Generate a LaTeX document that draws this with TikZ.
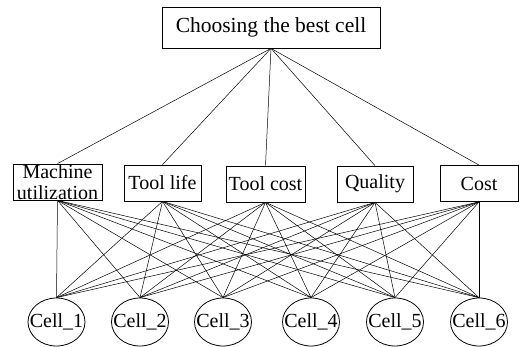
\documentclass[tikz,border=0pt]{standalone}
\usepackage{fontspec}
\setmainfont{Liberation Serif}
\usetikzlibrary{shapes.geometric}

\begin{document}
\begin{tikzpicture}[x=1pt, y=-1pt, font=\fontsize{20}{21}\selectfont,
   box/.style={draw, line width=0.8pt, inner sep=0pt, minimum height=36pt},
   cell/.style={draw, ellipse, line width=0.8pt, inner xsep=-8pt, inner ysep=0pt,
                minimum width=57pt, minimum height=48pt},
   link/.style={line width=0.5pt}]
  \useasboundingbox (0,0) rectangle (521,347);
  % goal
  \node[box, minimum width=218pt, minimum height=41pt,
        font=\fontsize{21.5}{24}\selectfont] (goal) at (271,27.5) {Choosing the best cell};
  % criteria
  \node[box, minimum width=89pt, inner ysep=-2pt, align=center] (mu)   at (57.5,182) {Machine\\utilization};
  \node[box, minimum width=77pt] (tl)   at (162.5,183) {Tool life};
  \node[box, minimum width=79pt] (tc)   at (265.5,184) {Tool cost};
  \node[box, minimum width=76pt] (qual) at (375,184)   {Quality};
  \node[box, minimum width=78pt] (cost) at (479,183.5) {Cost};
  % alternatives
  \node[cell] (cell1) at (56.5,322) {Cell\_1};
  \node[cell] (cell2) at (140,322)  {Cell\_2};
  \node[cell] (cell3) at (223,322)  {Cell\_3};
  \node[cell] (cell4) at (311,322)  {Cell\_4};
  \node[cell] (cell5) at (395,322)  {Cell\_5};
  \node[cell] (cell6) at (479,322)  {Cell\_6};
  % links
  \foreach \k in {mu,tl,tc,qual,cost} {
    \draw[link] (goal.south) -- (\k.north);
    \foreach \n in {1,...,6}
      \draw[link] (\k.south) -- (cell\n.north);
  }
\end{tikzpicture}
\end{document}
